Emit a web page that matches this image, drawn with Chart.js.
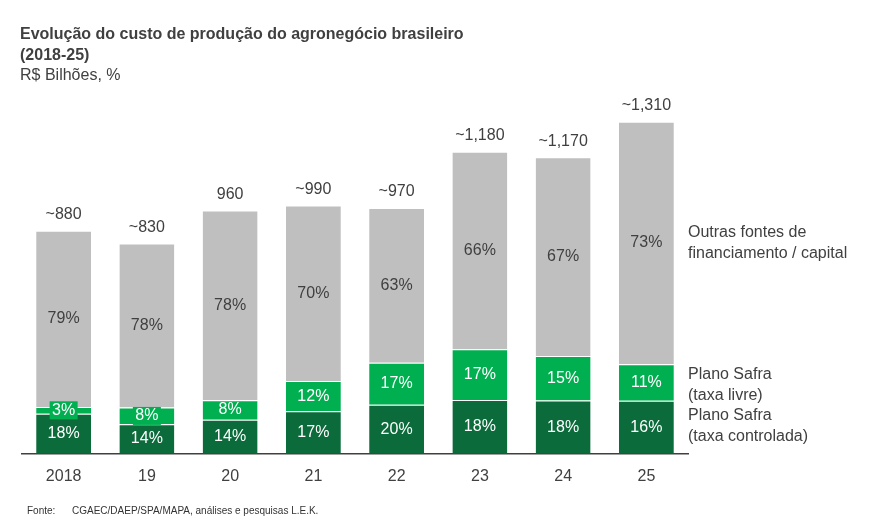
<!DOCTYPE html>
<html><head><meta charset="utf-8">
<script src="https://cdn.jsdelivr.net/npm/chart.js@4/dist/chart.umd.min.js"></script>
<style>body{margin:0;background:#fff;}#w{position:relative;width:870px;height:528px;}</style>
</head><body><div id="w"><canvas id="c" width="870" height="528"></canvas></div>
<script>
const categories = ["2018","19","20","21","22","23","24","25"];
const totals = [880,830,960,990,970,1180,1170,1310];
const totalLabels = ["~880","~830","960","~990","~970","~1,180","~1,170","~1,310"];
const pctControlada = [18,14,14,17,20,18,18,16];
const pctLivre = [3,8,8,12,17,17,15,11];
const pctOutras = [79,78,78,70,63,66,67,73];
const seriesNames = [["Plano Safra","(taxa controlada)"],["Plano Safra","(taxa livre)"],["Outras fontes de","financiamento / capital"]];
const FONT = "'Liberation Sans', Arial, sans-serif";
const seg = p => totals.map((t,i)=>t*p[i]/100);
const pcts = [pctControlada,pctLivre,pctOutras];
const colors = ["#0b6b3a","#00b050","#bfbfbf"];
const txtColors = ["#fff","#fff","#404040"];

const overlay = {
  id:'overlay',
  afterDatasetsDraw(chart){
    const ctx = chart.ctx;
    ctx.save();
    ctx.font = "16px "+FONT;
    ctx.textAlign='center'; ctx.textBaseline='middle';
    for(let d=0; d<3; d++){
      const meta = chart.getDatasetMeta(d);
      meta.data.forEach((bar,i)=>{
        const y = (bar.y+bar.base)/2;
        const h = Math.abs(bar.base-bar.y);
        if(h<18){
          ctx.fillStyle = colors[d];
          ctx.fillRect(bar.x-14, y-9, 28, 18);
        }
        ctx.fillStyle = txtColors[d];
        ctx.fillText(pcts[d][i]+"%", bar.x, y);
      });
    }
    const top = chart.getDatasetMeta(2);
    ctx.fillStyle="#404040";
    top.data.forEach((bar,i)=>ctx.fillText(totalLabels[i], bar.x, bar.y-16));
    ctx.textAlign='left';
    ctx.font = "16px "+FONT;
    const dy=[-2,2,0];
    for(let d=0; d<3; d++){
      const bar = chart.getDatasetMeta(d).data[7];
      const y = (bar.y+bar.base)/2 + dy[d];
      ctx.fillText(seriesNames[d][0], 688, y-10);
      ctx.fillText(seriesNames[d][1], 688, y+11);
    }
    ctx.font = "bold 16px "+FONT;
    ctx.fillStyle="#404040";
    ctx.textBaseline='alphabetic';
    ctx.fillText("Evolução do custo de produção do agronegócio brasileiro", 20, 39);
    ctx.fillText("(2018-25)", 20, 60);
    ctx.font = "16px "+FONT;
    ctx.fillText("R$ Bilhões, %", 20, 80);
    ctx.font = "10px "+FONT;
    ctx.fillStyle="#333";
    ctx.fillText("Fonte:", 27, 514);
    ctx.fillText("CGAEC/DAEP/SPA/MAPA, análises e pesquisas L.E.K.", 72, 514);
    ctx.restore();
  }
};

new Chart(document.getElementById('c'),{
  type:'bar',
  data:{labels:categories,datasets:[0,1,2].map(d=>({data:seg(pcts[d]),backgroundColor:colors[d],borderColor:'#fff',borderWidth:{top:1,bottom:0,left:0,right:0},categoryPercentage:1,barPercentage:0.66}))},
  options:{responsive:false,animation:false,
    layout:{padding:{top:99,left:22,right:182,bottom:29}},
    plugins:{legend:{display:false},tooltip:{enabled:false}},
    scales:{
      x:{stacked:true,grid:{display:false,drawTicks:false},border:{color:'#404040',width:1.5},
         ticks:{color:'#404040',font:{size:16,family:FONT},padding:13}},
      y:{stacked:true,display:false,min:0,max:1400}
    }},
  plugins:[overlay]
});
</script></body></html>
